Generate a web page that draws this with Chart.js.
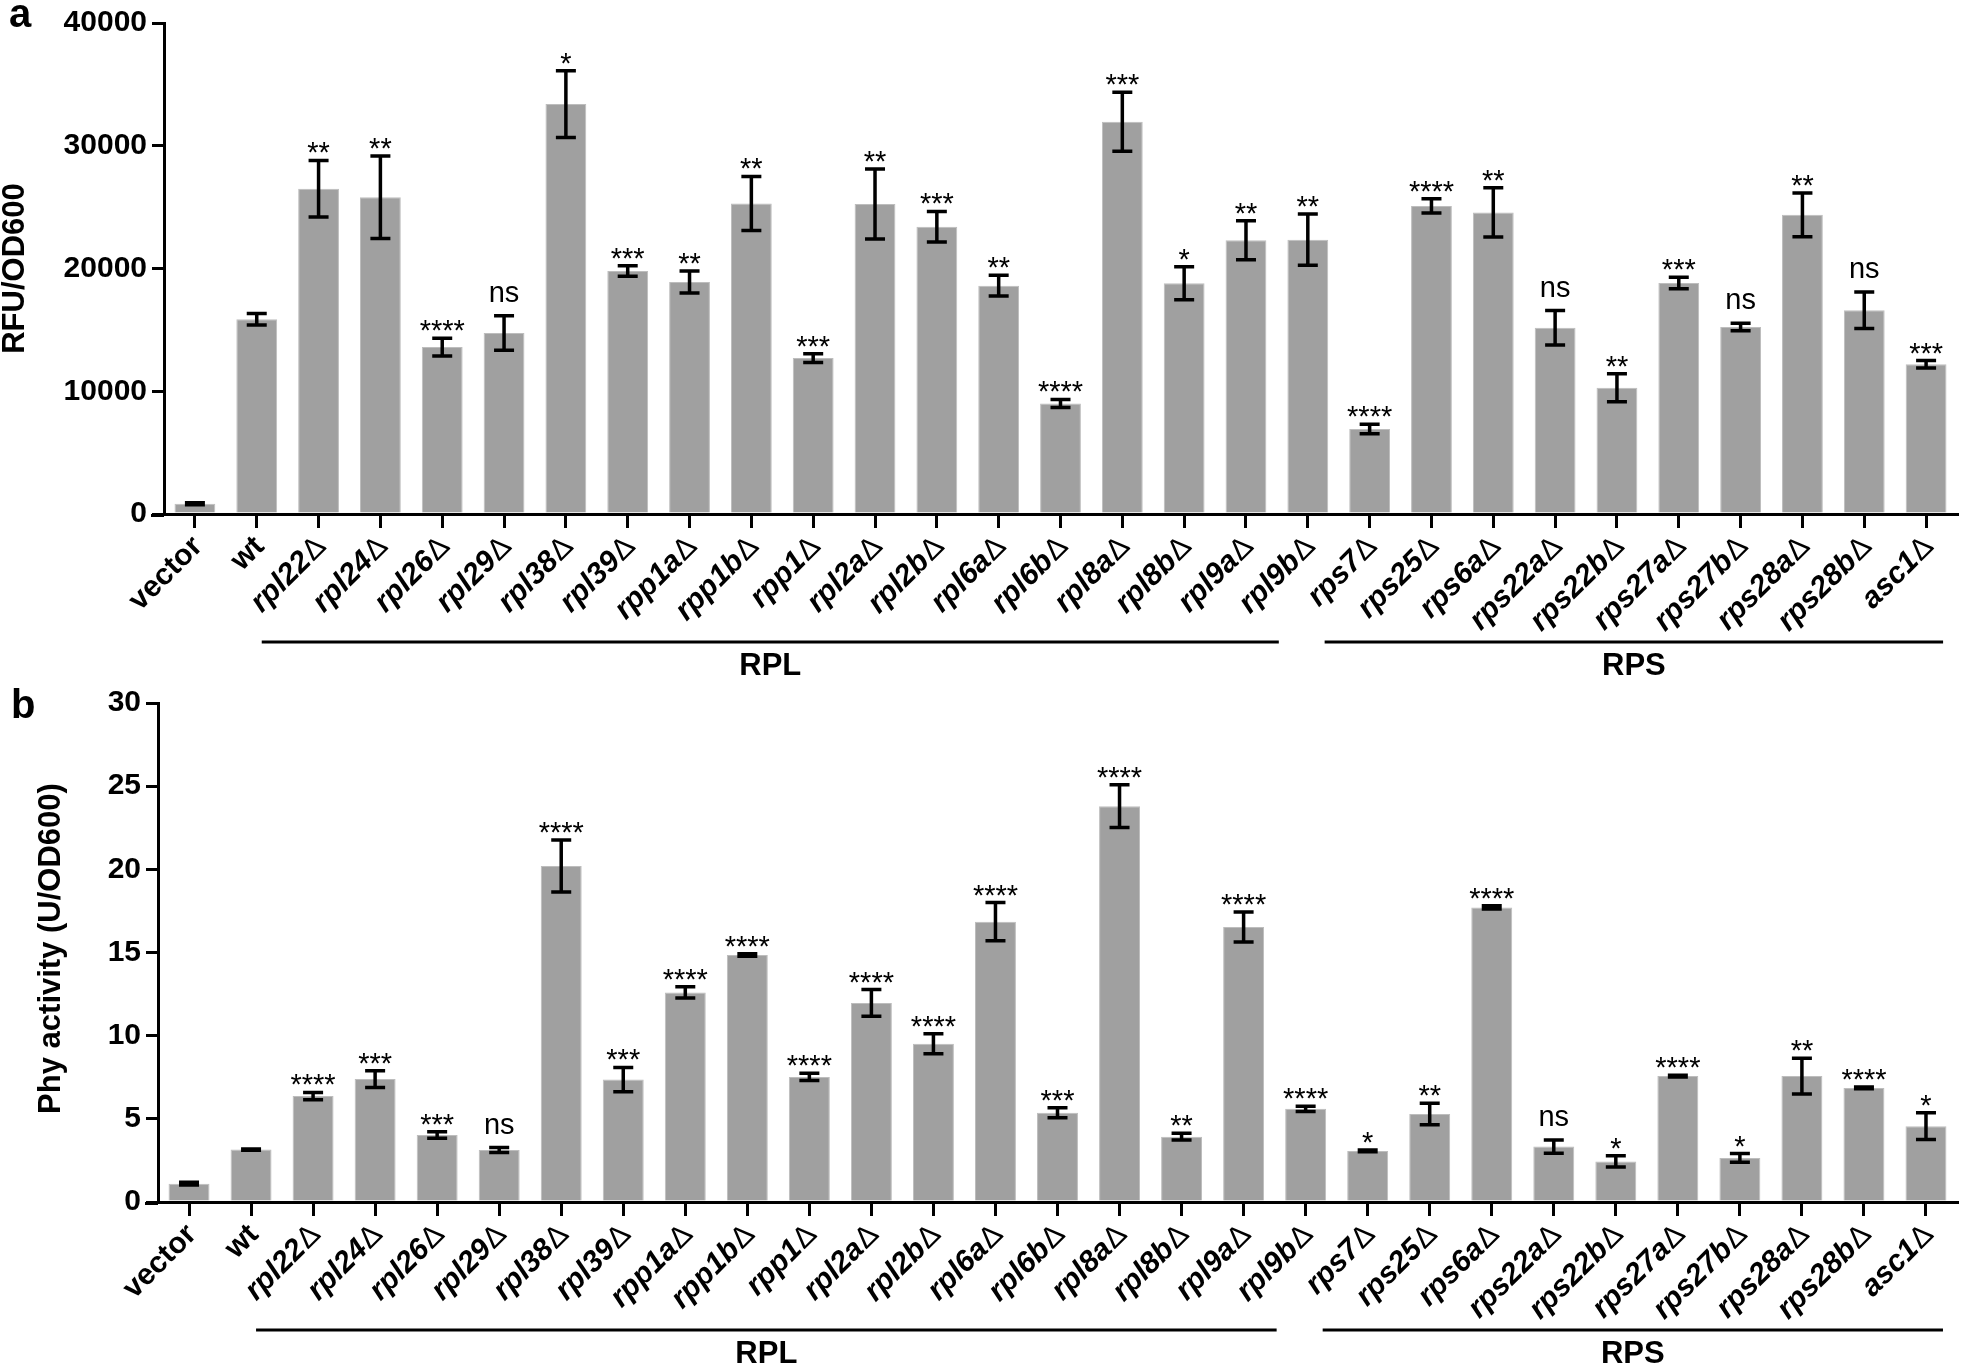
<!DOCTYPE html>
<html>
<head>
<meta charset="utf-8">
<script src="https://cdn.jsdelivr.net/npm/chart.js@4.4.0/dist/chart.umd.min.js"></script>
<style>
body { margin: 0; background: #fff; width: 1961px; height: 1363px; overflow: hidden; }
canvas { position: absolute; left: 0; }
</style>
</head>
<body>
<canvas id="graficoA" width="1961" height="680" style="top:0px"></canvas>
<canvas id="graficoB" width="1961" height="683" style="top:680px"></canvas>
<script>
const cepas = ['vector', 'wt', 'rpl22Δ', 'rpl24Δ', 'rpl26Δ', 'rpl29Δ', 'rpl38Δ', 'rpl39Δ', 'rpp1aΔ', 'rpp1bΔ',
    'rpp1Δ', 'rpl2aΔ', 'rpl2bΔ', 'rpl6aΔ', 'rpl6bΔ', 'rpl8aΔ', 'rpl8bΔ', 'rpl9aΔ', 'rpl9bΔ',
    'rps7Δ', 'rps25Δ', 'rps6aΔ', 'rps22aΔ', 'rps22bΔ', 'rps27aΔ', 'rps27bΔ', 'rps28aΔ', 'rps28bΔ', 'asc1Δ'];

// painel a: RFU/OD600
const rfu = [830, 15860, 26500, 25800, 13600, 14750, 33400, 19800, 18900, 25300,
    12700, 25250, 23400, 18600, 9000, 31950, 18800, 22300, 22350,
    6930, 25100, 24570, 15170, 10290, 18820, 15230, 24370, 16600, 12200];
const rfuErro = [80, 470, 2300, 3360, 720, 1400, 2720, 430, 900, 2200,
    360, 2850, 1250, 850, 330, 2400, 1340, 1580, 2080,
    390, 575, 2010, 1400, 1140, 470, 300, 1780, 1480, 300];
const rfuSig = ['', '', '**', '**', '****', 'ns', '*', '***', '**', '**',
    '***', '**', '***', '**', '****', '***', '*', '**', '**',
    '****', '****', '**', 'ns', '**', '***', 'ns', '**', 'ns', '***'];
const ticksRfu = [0, 10000, 20000, 30000, 40000];

// painel b: Phy activity
const phy = [1.1, 3.15, 6.37, 7.39, 4.03, 3.12, 20.2, 7.36, 12.6, 14.85,
    7.52, 11.97, 9.51, 16.85, 5.37, 23.8, 3.93, 16.53, 5.6,
    3.07, 5.29, 17.71, 3.33, 2.44, 7.57, 2.65, 7.57, 6.86, 4.56];
const phyErro = [0.08, 0.04, 0.22, 0.5, 0.2, 0.15, 1.57, 0.73, 0.34, 0.08,
    0.22, 0.8, 0.6, 1.15, 0.3, 1.28, 0.2, 0.9, 0.16,
    0.05, 0.65, 0.1, 0.4, 0.34, 0.05, 0.26, 1.07, 0.05, 0.8];
const phySig = ['', '', '****', '***', '***', 'ns', '****', '***', '****', '****',
    '****', '****', '****', '****', '***', '****', '**', '****', '****',
    '*', '**', '****', 'ns', '*', '****', '*', '**', '****', '*'];
const ticksPhy = [0, 5, 10, 15, 20, 25, 30];

// grupos desenhados abaixo dos rotulos
const grupos = [
    { nome: 'RPL', de: 2, ate: 18 },
    { nome: 'RPS', de: 19, ate: 28 }
];

const fonte = '"Liberation Sans", Arial, sans-serif';

function desenharRotulo(ctx, texto, x, y) {
    ctx.save();
    ctx.translate(x, y);
    ctx.rotate(-Math.PI / 4);
    ctx.textAlign = 'right';
    ctx.textBaseline = 'middle';
    let nome = texto;
    let fim = 0;
    if (texto.endsWith('Δ')) {
        nome = texto.slice(0, -1);
        ctx.font = '30px ' + fonte;
        ctx.fillText('Δ', 0, 0);
        fim = -ctx.measureText('Δ').width - 1;
        ctx.font = 'italic bold 30px ' + fonte;
    } else {
        ctx.font = 'bold 30px ' + fonte;
    }
    ctx.fillText(nome, fim, 0);
    ctx.restore();
}

const extras = {
    id: 'extras',
    afterDatasetsDraw(chart, args, opts) {
        const ctx = chart.ctx;
        const y = chart.scales.y;
        const meta = chart.getDatasetMeta(0);
        const valores = chart.data.datasets[0].data;
        ctx.save();
        ctx.strokeStyle = '#000';
        ctx.fillStyle = '#000';
        ctx.lineWidth = 3.5;
        for (let i = 0; i < valores.length; i++) {
            const cx = meta.data[i].x;
            const yTopo = y.getPixelForValue(valores[i] + opts.erros[i]);
            const yBase = y.getPixelForValue(valores[i] - opts.erros[i]);
            ctx.beginPath();
            ctx.moveTo(cx, yTopo);
            ctx.lineTo(cx, yBase);
            ctx.moveTo(cx - 10, yTopo);
            ctx.lineTo(cx + 10, yTopo);
            ctx.moveTo(cx - 10, yBase);
            ctx.lineTo(cx + 10, yBase);
            ctx.stroke();

            const s = opts.sig[i];
            if (s) {
                ctx.font = '29px ' + fonte;
                ctx.textAlign = 'center';
                ctx.textBaseline = 'alphabetic';
                ctx.fillText(s, cx, s === 'ns' ? yTopo - 14 : yTopo + 2);
            }
        }
        ctx.restore();
    },
    afterDraw(chart, args, opts) {
        const ctx = chart.ctx;
        const x = chart.scales.x;
        const area = chart.chartArea;
        ctx.save();
        ctx.fillStyle = '#000';
        ctx.strokeStyle = '#000';

        // eixo x continua um pouco a esquerda do eixo y
        ctx.lineWidth = 3;
        ctx.beginPath();
        ctx.moveTo(area.left - 13, area.bottom + 1.5);
        ctx.lineTo(area.left, area.bottom + 1.5);
        ctx.stroke();

        chart.data.labels.forEach(function (rotulo, i) {
            desenharRotulo(ctx, rotulo, x.getPixelForValue(i) + 3, area.bottom + 28);
        });

        const yLinha = area.bottom + 128;
        ctx.lineWidth = 3;
        grupos.forEach(function (g, k) {
            let x1, x2;
            if (k === 0) {
                x1 = x.getPixelForValue(g.de - 1) + 5;
                x2 = x.getPixelForValue(g.ate) - 29;
            } else {
                x1 = x.getPixelForValue(g.de) - 45;
                x2 = x.getPixelForValue(g.ate) + 17;
            }
            ctx.beginPath();
            ctx.moveTo(x1, yLinha);
            ctx.lineTo(x2, yLinha);
            ctx.stroke();
            ctx.font = 'bold 31px ' + fonte;
            ctx.textAlign = 'center';
            ctx.textBaseline = 'alphabetic';
            ctx.fillText(g.nome, (x1 + x2) / 2, yLinha + 33);
        });

        // titulo do eixo y
        ctx.save();
        ctx.translate(opts.tituloX, (area.top + area.bottom) / 2 + opts.tituloDy);
        ctx.rotate(-Math.PI / 2);
        ctx.font = 'bold 31px ' + fonte;
        ctx.textAlign = 'center';
        ctx.textBaseline = 'middle';
        ctx.fillText(opts.titulo, 0, 0);
        ctx.restore();

        // letra do painel
        ctx.font = 'bold 40px ' + fonte;
        ctx.textAlign = 'left';
        ctx.textBaseline = 'alphabetic';
        ctx.fillText(opts.letra, opts.letraX, opts.letraY);
        ctx.restore();
    }
};

function gerarGrafico(id, valores, erros, sig, ticks, cfg) {
    const ctx = document.getElementById(id).getContext('2d');
    return new Chart(ctx, {
        type: 'bar',
        data: {
            labels: cepas,
            datasets: [{
                data: valores,
                backgroundColor: '#a0a0a0',
                borderColor: '#bdbdbd',
                borderWidth: 1,
                barPercentage: 0.66,
                categoryPercentage: 1
            }]
        },
        options: {
            responsive: false,
            animation: false,
            devicePixelRatio: 1,
            layout: { padding: { top: cfg.topo, right: 4, left: 0, bottom: 0 } },
            plugins: {
                legend: { display: false },
                tooltip: { enabled: false },
                extras: {
                    erros: erros, sig: sig, titulo: cfg.titulo, tituloX: cfg.tituloX, tituloDy: cfg.tituloDy,
                    letra: cfg.letra, letraX: cfg.letraX, letraY: cfg.letraY
                }
            },
            scales: {
                x: {
                    offset: true,
                    grid: { display: true, drawOnChartArea: false, drawTicks: true, tickLength: 14, offset: false, color: '#000', lineWidth: 3 },
                    border: { display: true, color: '#000', width: 3 },
                    ticks: { display: false },
                    afterFit: function (scale) { scale.height = cfg.alturaX; }
                },
                y: {
                    min: 0,
                    max: ticks[ticks.length - 1],
                    afterBuildTicks: function (scale) {
                        scale.ticks = ticks.map(function (v) { return { value: v }; });
                    },
                    grid: { display: true, drawOnChartArea: false, drawTicks: true, tickLength: 12, color: '#000', lineWidth: 3 },
                    border: { display: true, color: '#000', width: 3 },
                    ticks: {
                        color: '#000',
                        padding: 5,
                        font: { family: fonte, size: 30, weight: 'bold' },
                        callback: function (valor) { return String(valor); }
                    },
                    afterFit: function (scale) { scale.width = cfg.larguraY; }
                }
            }
        },
        plugins: [extras]
    });
}

gerarGrafico('graficoA', rfu, rfuErro, rfuSig, ticksRfu, {
    topo: 16, alturaX: 166, larguraY: 164,
    titulo: 'RFU/OD600', tituloX: 15, tituloDy: 0,
    letra: 'a', letraX: 9, letraY: 27
});
gerarGrafico('graficoB', phy, phyErro, phySig, ticksPhy, {
    topo: 23, alturaX: 161, larguraY: 158,
    titulo: 'Phy activity (U/OD600)', tituloX: 51, tituloDy: -4,
    letra: 'b', letraX: 11, letraY: 38
});
</script>
</body>
</html>
